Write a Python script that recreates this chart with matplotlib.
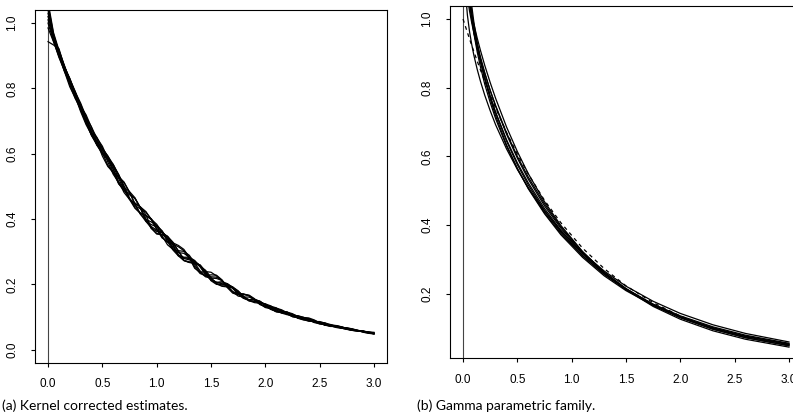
import numpy as np
import matplotlib
matplotlib.use("Agg")
import matplotlib.pyplot as plt

# ---------------- data: axes ticks ----------------
x_ticks = [0.0, 0.5, 1.0, 1.5, 2.0, 2.5, 3.0]
x_tick_labels = ["0.0", "0.5", "1.0", "1.5", "2.0", "2.5", "3.0"]
ya_ticks = [0.0, 0.2, 0.4, 0.6, 0.8, 1.0]
ya_tick_labels = ["0.0", "0.2", "0.4", "0.6", "0.8", "1.0"]
yb_ticks = [0.2, 0.4, 0.6, 0.8, 1.0]
yb_tick_labels = ["0.2", "0.4", "0.6", "0.8", "1.0"]

# ---------------- data: panel (a) kernel corrected estimates (x = 0, 0.05, ..., 3) ----------------
kernel_1 = [1.050, 0.956, 0.905, 0.853, 0.805, 0.771, 0.745, 0.719, 0.680, 0.636,
            0.593, 0.561, 0.543, 0.530, 0.513, 0.482, 0.445, 0.415, 0.399, 0.391,
            0.380, 0.364, 0.337, 0.309, 0.289, 0.283, 0.283, 0.273, 0.253, 0.229,
            0.213, 0.206, 0.208, 0.202, 0.187, 0.170, 0.157, 0.153, 0.154, 0.148,
            0.137, 0.125, 0.116, 0.114, 0.115, 0.110, 0.101, 0.092, 0.087, 0.086,
            0.086, 0.081, 0.073, 0.068, 0.065, 0.066, 0.064, 0.059, 0.053, 0.051, 0.050]
kernel_2 = [1.020, 0.959, 0.917, 0.871, 0.823, 0.775, 0.729, 0.689, 0.658, 0.636,
            0.615, 0.593, 0.567, 0.532, 0.495, 0.460, 0.433, 0.417, 0.409, 0.399,
            0.384, 0.360, 0.331, 0.305, 0.287, 0.281, 0.279, 0.271, 0.257, 0.237,
            0.215, 0.202, 0.198, 0.198, 0.192, 0.180, 0.163, 0.150, 0.144, 0.142,
            0.140, 0.134, 0.122, 0.112, 0.107, 0.105, 0.103, 0.098, 0.091, 0.083,
            0.079, 0.079, 0.077, 0.073, 0.066, 0.062, 0.060, 0.059, 0.057, 0.052, 0.049]
kernel_3 = [0.943, 0.933, 0.922, 0.867, 0.829, 0.787, 0.741, 0.695, 0.656, 0.630,
            0.611, 0.589, 0.553, 0.508, 0.487, 0.474, 0.463, 0.435, 0.401, 0.371,
            0.356, 0.352, 0.347, 0.329, 0.301, 0.279, 0.275, 0.269, 0.257, 0.233,
            0.215, 0.206, 0.202, 0.194, 0.190, 0.179, 0.163, 0.151, 0.147, 0.145,
            0.140, 0.130, 0.118, 0.112, 0.111, 0.108, 0.102, 0.093, 0.088, 0.086,
            0.084, 0.080, 0.073, 0.069, 0.067, 0.066, 0.062, 0.059, 0.056, 0.051, 0.049]
kernel_4 = [1.065, 0.971, 0.917, 0.867, 0.829, 0.791, 0.747, 0.703, 0.664, 0.638,
            0.617, 0.593, 0.561, 0.524, 0.489, 0.462, 0.447, 0.437, 0.423, 0.399,
            0.370, 0.344, 0.329, 0.323, 0.315, 0.303, 0.281, 0.249, 0.237, 0.239,
            0.237, 0.226, 0.212, 0.192, 0.177, 0.172, 0.171, 0.165, 0.154, 0.140,
            0.131, 0.129, 0.127, 0.122, 0.113, 0.102, 0.098, 0.099, 0.095, 0.088,
            0.080, 0.076, 0.074, 0.074, 0.070, 0.065, 0.060, 0.058, 0.057, 0.054, 0.051]
kernel_5 = [1.000, 0.945, 0.895, 0.855, 0.821, 0.787, 0.745, 0.699, 0.656, 0.626,
            0.605, 0.585, 0.553, 0.514, 0.481, 0.460, 0.449, 0.437, 0.413, 0.373,
            0.354, 0.352, 0.341, 0.325, 0.303, 0.273, 0.267, 0.265, 0.255, 0.243,
            0.221, 0.202, 0.194, 0.192, 0.189, 0.176, 0.159, 0.149, 0.148, 0.146,
            0.137, 0.125, 0.116, 0.114, 0.113, 0.105, 0.096, 0.091, 0.091, 0.088,
            0.082, 0.075, 0.071, 0.071, 0.068, 0.063, 0.059, 0.057, 0.056, 0.052, 0.048]
kernel_6 = [1.040, 0.961, 0.907, 0.857, 0.821, 0.789, 0.755, 0.713, 0.666, 0.628,
            0.603, 0.585, 0.567, 0.536, 0.499, 0.462, 0.441, 0.431, 0.421, 0.399,
            0.368, 0.342, 0.331, 0.327, 0.319, 0.307, 0.283, 0.253, 0.233, 0.227,
            0.229, 0.228, 0.214, 0.190, 0.173, 0.168, 0.169, 0.165, 0.152, 0.138,
            0.133, 0.133, 0.128, 0.118, 0.109, 0.105, 0.104, 0.099, 0.091, 0.084,
            0.084, 0.082, 0.076, 0.071, 0.068, 0.067, 0.063, 0.058, 0.056, 0.054, 0.051]
kernel_7 = [0.985, 0.943, 0.899, 0.865, 0.831, 0.785, 0.735, 0.693, 0.666, 0.648,
            0.623, 0.585, 0.543, 0.508, 0.489, 0.478, 0.463, 0.435, 0.393, 0.373,
            0.362, 0.358, 0.347, 0.323, 0.287, 0.273, 0.267, 0.265, 0.259, 0.239,
            0.211, 0.200, 0.198, 0.200, 0.191, 0.174, 0.159, 0.153, 0.152, 0.148,
            0.137, 0.125, 0.118, 0.118, 0.115, 0.105, 0.097, 0.093, 0.093, 0.089,
            0.082, 0.076, 0.073, 0.073, 0.069, 0.063, 0.059, 0.058, 0.056, 0.052, 0.049]
kernel_8 = [1.030, 0.953, 0.909, 0.869, 0.825, 0.777, 0.733, 0.699, 0.674, 0.650,
            0.617, 0.575, 0.537, 0.512, 0.497, 0.484, 0.465, 0.433, 0.397, 0.377,
            0.366, 0.360, 0.345, 0.319, 0.291, 0.273, 0.269, 0.267, 0.259, 0.239,
            0.217, 0.206, 0.204, 0.202, 0.191, 0.172, 0.157, 0.153, 0.154, 0.148,
            0.135, 0.123, 0.118, 0.118, 0.115, 0.106, 0.097, 0.093, 0.094, 0.089,
            0.082, 0.076, 0.072, 0.072, 0.069, 0.064, 0.059, 0.057, 0.056, 0.053, 0.050]
kernel_9 = [1.010, 0.949, 0.899, 0.853, 0.815, 0.783, 0.751, 0.711, 0.666, 0.626,
            0.599, 0.581, 0.563, 0.536, 0.501, 0.464, 0.435, 0.419, 0.411, 0.401,
            0.378, 0.348, 0.321, 0.307, 0.303, 0.301, 0.289, 0.265, 0.241, 0.225,
            0.223, 0.222, 0.212, 0.194, 0.177, 0.170, 0.169, 0.167, 0.156, 0.140,
            0.131, 0.129, 0.126, 0.119, 0.109, 0.101, 0.099, 0.098, 0.097, 0.091,
            0.082, 0.075, 0.073, 0.073, 0.070, 0.065, 0.060, 0.057, 0.056, 0.054, 0.053]
kernel_10 = [1.055, 0.967, 0.911, 0.859, 0.811, 0.769, 0.737, 0.711, 0.682, 0.646,
             0.603, 0.565, 0.541, 0.526, 0.511, 0.482, 0.447, 0.415, 0.393, 0.383,
             0.376, 0.362, 0.339, 0.313, 0.297, 0.295, 0.283, 0.259, 0.237, 0.223,
             0.219, 0.218, 0.212, 0.196, 0.177, 0.164, 0.161, 0.161, 0.154, 0.140,
             0.129, 0.125, 0.124, 0.119, 0.110, 0.101, 0.098, 0.096, 0.093, 0.085,
             0.079, 0.076, 0.075, 0.072, 0.066, 0.062, 0.061, 0.059, 0.054, 0.050, 0.048]
kernel_curves = [kernel_1, kernel_2, kernel_3, kernel_4, kernel_5,
                 kernel_6, kernel_7, kernel_8, kernel_9, kernel_10]

# ---------------- data: panel (b) gamma parametric family ----------------
gamma_x = [0.02, 0.04, 0.06, 0.08, 0.10, 0.13, 0.16, 0.20, 0.25, 0.30, 0.40, 0.50,
           0.60, 0.75, 0.90, 1.10, 1.30, 1.50, 1.75, 2.00, 2.30, 2.60, 3.00]
gamma_A = [1.327, 1.184, 1.100, 1.039, 0.990, 0.931, 0.882, 0.826, 0.768, 0.718, 0.634, 0.565,
           0.506, 0.433, 0.372, 0.306, 0.252, 0.209, 0.166, 0.132, 0.1006, 0.0768, 0.0538]
gamma_B = [1.252, 1.140, 1.071, 1.020, 0.978, 0.925, 0.881, 0.829, 0.775, 0.727, 0.645, 0.576,
           0.517, 0.442, 0.380, 0.311, 0.256, 0.212, 0.167, 0.132, 0.0999, 0.0757, 0.0524]
gamma_C = [1.196, 1.104, 1.045, 1.000, 0.963, 0.915, 0.875, 0.827, 0.775, 0.729, 0.649, 0.581,
           0.523, 0.448, 0.385, 0.3155, 0.2596, 0.2141, 0.1686, 0.1330, 0.1003, 0.0757, 0.0521]
gamma_D = [1.176, 1.099, 1.048, 1.008, 0.974, 0.929, 0.890, 0.844, 0.792, 0.746, 0.665, 0.595,
           0.534, 0.456, 0.391, 0.318, 0.260, 0.213, 0.166, 0.130, 0.0967, 0.0721, 0.0488]
gamma_E = [1.088, 1.012, 0.963, 0.926, 0.894, 0.854, 0.819, 0.778, 0.733, 0.692, 0.622, 0.562,
           0.509, 0.441, 0.383, 0.319, 0.266, 0.222, 0.178, 0.1427, 0.1096, 0.0844, 0.0596]
gamma_F = [1.140, 1.086, 1.047, 1.014, 0.985, 0.945, 0.909, 0.865, 0.815, 0.769, 0.686, 0.614,
           0.550, 0.468, 0.399, 0.323, 0.261, 0.212, 0.163, 0.1258, 0.0921, 0.0675, 0.0446]
gamma_G = [1.243, 1.125, 1.053, 1.001, 0.958, 0.905, 0.861, 0.810, 0.757, 0.710, 0.630, 0.564,
           0.508, 0.436, 0.376, 0.310, 0.257, 0.2136, 0.170, 0.1356, 0.1036, 0.0793, 0.0557]
gamma_H = [1.123, 1.064, 1.023, 0.989, 0.959, 0.919, 0.884, 0.841, 0.792, 0.748, 0.669, 0.600,
           0.540, 0.462, 0.395, 0.322, 0.263, 0.2154, 0.1677, 0.1307, 0.0970, 0.0721, 0.0486]
gamma_curves = [gamma_A, gamma_B, gamma_C, gamma_D, gamma_E, gamma_F, gamma_G, gamma_H]

true_x = [0.0, 0.04, 0.06, 0.08, 0.10, 0.13, 0.16, 0.20, 0.25, 0.30, 0.40, 0.50,
          0.60, 0.75, 0.90, 1.10, 1.30, 1.50, 1.75, 2.00, 2.30, 2.60, 3.00]
true_y = [1.000, 0.961, 0.942, 0.923, 0.905, 0.878, 0.852, 0.819, 0.779, 0.741, 0.670, 0.607,
          0.549, 0.472, 0.407, 0.333, 0.273, 0.223, 0.174, 0.135, 0.100, 0.074, 0.050]

caption_a = "(a) Kernel corrected estimates."
caption_b = "(b) Gamma parametric family."

# ---------------- figure ----------------
W, H = 793, 416
fig = plt.figure(figsize=(W / 100, H / 100), dpi=100)
tick_font = {"family": ["Liberation Sans", "DejaVu Sans"], "size": 8.5}
LW = 0.9


def px_axes(x0, x1, ytop, ybot):
    return fig.add_axes([x0 / W, (H - ybot) / H, (x1 - x0) / W, (ybot - ytop) / H])


def style(ax, yticks, ylabels):
    for s in ax.spines.values():
        s.set_linewidth(0.8)
        s.set_color("black")
    ax.set_xticks(x_ticks)
    ax.set_xticklabels(x_tick_labels, fontdict=tick_font)
    ax.set_yticks(yticks)
    ax.set_yticklabels(ylabels, fontdict=tick_font, rotation=90, va="center")
    ax.tick_params(axis="both", direction="out", length=3, width=0.8, colors="black")
    ax.tick_params(axis="x", pad=8)
    ax.tick_params(axis="y", pad=9)


# panel (a)
ax1 = px_axes(35, 387, 10, 362.7)
ax1.axvline(0, color="#444444", lw=0.8, zorder=1)
for ys in kernel_curves:
    xs = np.linspace(0, 3, len(ys))
    ax1.plot(xs, ys, color="black", lw=LW, zorder=2)
ax1.set_xlim(-0.12, 3.12)
ax1.set_ylim(-0.04, 1.04)
style(ax1, ya_ticks, ya_tick_labels)

# panel (b)
ax2 = px_axes(450, 802, 6, 358.3)
ax2.axvline(0, color="#444444", lw=0.8, zorder=1)
for ys in gamma_curves:
    ax2.plot(gamma_x, ys, color="black", lw=LW, zorder=2)
ax2.plot(true_x, true_y, color="black", lw=LW, linestyle=(0, (3, 3)), zorder=3)
ax2.set_xlim(-0.12, 3.12)
ax2.set_ylim(0.012, 1.038)
style(ax2, yb_ticks, yb_tick_labels)

cap_font = dict(family=["Lato", "DejaVu Sans"], size=10)
fig.text(2 / W, 1 - 406 / H, caption_a, ha="left", va="center", **cap_font)
fig.text(417 / W, 1 - 406 / H, caption_b, ha="left", va="center", **cap_font)

fig.savefig("out.png", dpi=100)
